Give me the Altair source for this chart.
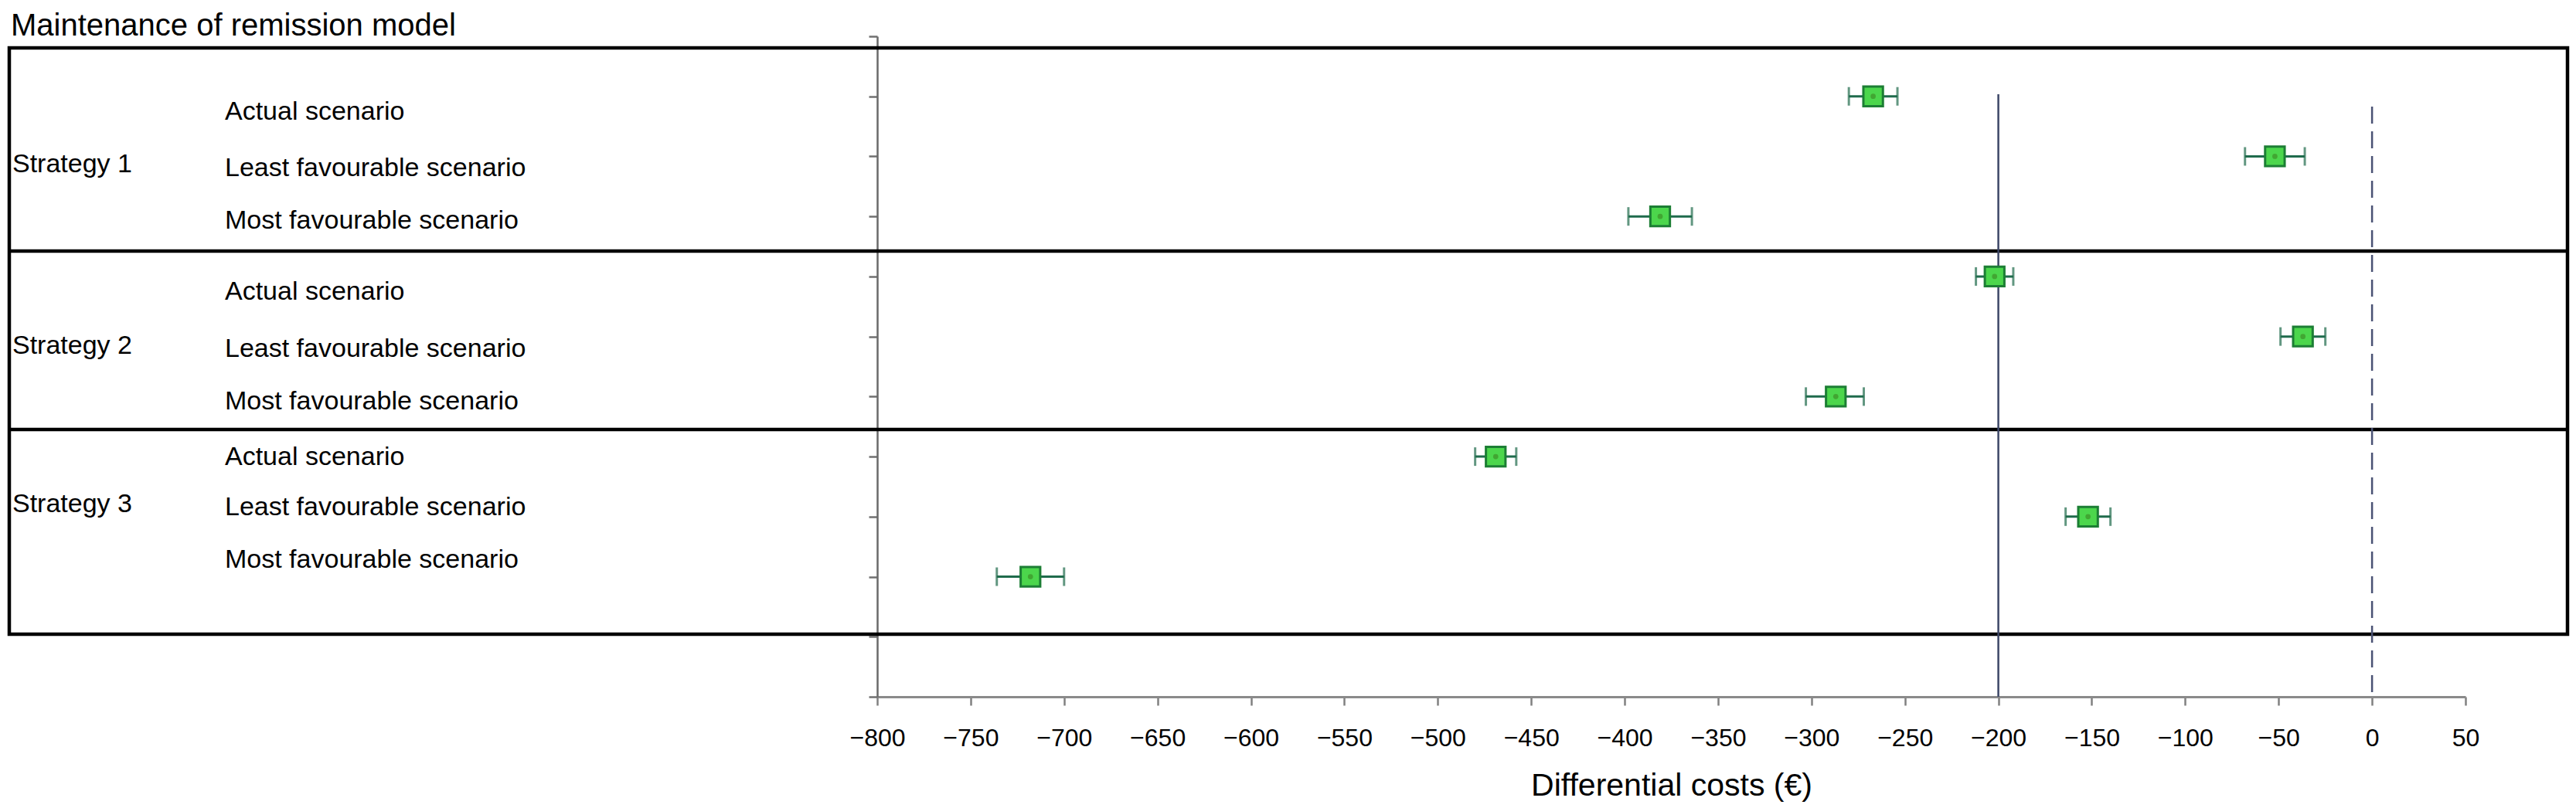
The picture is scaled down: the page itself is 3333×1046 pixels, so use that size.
import altair as alt
import pandas as pd

# ---------------- data ----------------
strategies = ["Strategy 1", "Strategy 2", "Strategy 3"]
scenarios = ["Actual scenario", "Least favourable scenario", "Most favourable scenario"]
mean_cost = [-267, -52, -381, -202, -37, -287, -469, -152, -718]
lower_cost = [-280, -68, -398, -212, -49, -303, -480, -164, -736]
upper_cost = [-254, -36, -364, -192, -25, -272, -458, -140, -700]
x_tick_values = list(range(-800, 51, 50))
ref_solid_value = -200
ref_dashed_value = 0
title_text = "Maintenance of remission model"
x_title = "Differential costs (€)"

# ---------------- layout (not data) ----------------
row_index = list(range(1, 10))
scenario_label_rows = [1.389, 2.329, 3.203, 4.387, 5.339, 6.214, 7.140, 7.976, 8.851]
strategy_label_rows = [2.264, 5.288, 7.925]
box_top, box_bottom = 0.193, 9.958
separator_rows = [3.577, 6.548]
ref_solid_start, ref_dashed_start, ref_end = 0.965, 1.17, 11

FONT = "Liberation Sans"
PW, PH = 2055, 855
BOX_L, BOX_R = -1123, 2187

pts = pd.DataFrame({
    "strategy": [s for s in strategies for _ in scenarios],
    "scenario": scenarios * 3,
    "mean": mean_cost,
    "lower": lower_cost,
    "upper": upper_cost,
    "row": row_index,
    "lrow": scenario_label_rows,
})
strat_df = pd.DataFrame({"strategy": strategies, "srow": strategy_label_rows})
sep_df = pd.DataFrame({"y": separator_rows})
ref_df = pd.DataFrame({
    "x": [ref_solid_value, ref_dashed_value],
    "y": [ref_solid_start, ref_dashed_start],
    "y2": [ref_end, ref_end],
    "kind": ["solid", "dashed"],
})

yscale = alt.Scale(domain=[0, 11], reverse=True, nice=False, zero=False)
yaxis = alt.Axis(values=list(range(12)), labels=False, title=None, tickSize=11,
                 tickWidth=2.5, tickColor="#707070", domainColor="#6a6a6a",
                 domainWidth=2.5, grid=False)
xscale = alt.Scale(domain=[-800, 50], nice=False, zero=False)
xaxis = alt.Axis(values=x_tick_values, title=x_title, labelFontSize=32,
                 titleFontSize=41, tickSize=11, tickWidth=2.5, tickColor="#808080",
                 domainColor="#8a8a8a", domainWidth=3, grid=False, labelFlush=False,
                 labelOverlap=False, labelPadding=27, titlePadding=26,
                 titleFontWeight="normal", labelColor="black", titleColor="black",
                 labelFont=FONT, titleFont=FONT)

base = alt.Chart(pts)

# box around the table
box = alt.Chart(pd.DataFrame({"a": [0]})).mark_rect(
    fill="white", fillOpacity=0, stroke="black", strokeWidth=4.5
).encode(
    x=alt.value(BOX_L), x2=alt.value(BOX_R),
    y=alt.Y(datum=box_top, scale=yscale, axis=yaxis), y2=alt.Y2(datum=box_bottom),
)
seps = alt.Chart(sep_df).mark_rule(color="black", strokeWidth=4.5).encode(
    x=alt.value(BOX_L), x2=alt.value(BOX_R),
    y=alt.Y("y:Q", scale=yscale, axis=yaxis),
)

ref_solid = alt.Chart(ref_df[ref_df.kind == "solid"]).mark_rule(
    color="#3c4666", strokeWidth=2.5
).encode(
    x=alt.X("x:Q", scale=xscale, axis=xaxis),
    y=alt.Y("y:Q", scale=yscale, axis=yaxis), y2="y2:Q",
)
ref_dashed = alt.Chart(ref_df[ref_df.kind == "dashed"]).mark_rule(
    color="#4a5274", strokeWidth=2.5, strokeDash=[22, 10]
).encode(
    x=alt.X("x:Q", scale=xscale, axis=xaxis),
    y=alt.Y("y:Q", scale=yscale, axis=yaxis), y2="y2:Q",
)

err_col = "#1f6b4c"
err_line = base.mark_rule(color=err_col, strokeWidth=3).encode(
    x=alt.X("lower:Q", scale=xscale, axis=xaxis), x2="upper:Q",
    y=alt.Y("row:Q", scale=yscale, axis=yaxis),
)
cap_lo = base.mark_tick(color=err_col, orient="vertical", size=24, thickness=3).encode(
    x=alt.X("lower:Q", scale=xscale, axis=xaxis),
    y=alt.Y("row:Q", scale=yscale, axis=yaxis),
)
cap_hi = base.mark_tick(color=err_col, orient="vertical", size=24, thickness=3).encode(
    x=alt.X("upper:Q", scale=xscale, axis=xaxis),
    y=alt.Y("row:Q", scale=yscale, axis=yaxis),
)
squares = base.mark_square(
    size=640, fill="#4cd64c", stroke="#1c7e34", strokeWidth=3, opacity=1
).encode(
    x=alt.X("mean:Q", scale=xscale, axis=xaxis),
    y=alt.Y("row:Q", scale=yscale, axis=yaxis),
)
centers = base.mark_circle(size=45, color="#3f9a2c", opacity=0.8).encode(
    x=alt.X("mean:Q", scale=xscale, axis=xaxis),
    y=alt.Y("row:Q", scale=yscale, axis=yaxis),
)

scen_text = base.mark_text(
    align="left", baseline="alphabetic", fontSize=34, font=FONT, color="black"
).encode(
    x=alt.value(-844),
    y=alt.Y("lrow:Q", scale=yscale, axis=yaxis),
    text="scenario:N",
)
strat_text = alt.Chart(strat_df).mark_text(
    align="left", baseline="alphabetic", fontSize=34, font=FONT, color="black"
).encode(
    x=alt.value(-1119),
    y=alt.Y("srow:Q", scale=yscale, axis=yaxis),
    text="strategy:N",
)
title = alt.Chart(pd.DataFrame({"t": [title_text]})).mark_text(
    align="left", baseline="alphabetic", fontSize=40, font=FONT, color="black"
).encode(
    x=alt.value(-1121), y=alt.value(-1), text="t:N",
)

chart = alt.layer(
    box, seps, ref_solid, ref_dashed, err_line, cap_lo, cap_hi, squares, centers,
    scen_text, strat_text, title,
).properties(
    width=PW, height=PH,
    padding={"left": 1127, "top": 39, "right": 135, "bottom": 136},
    autosize=alt.AutoSizeParams(type="none"),
    background="white",
).configure_view(stroke=None)

chart.save("out.html", embed_options={"renderer": "svg", "actions": False})
